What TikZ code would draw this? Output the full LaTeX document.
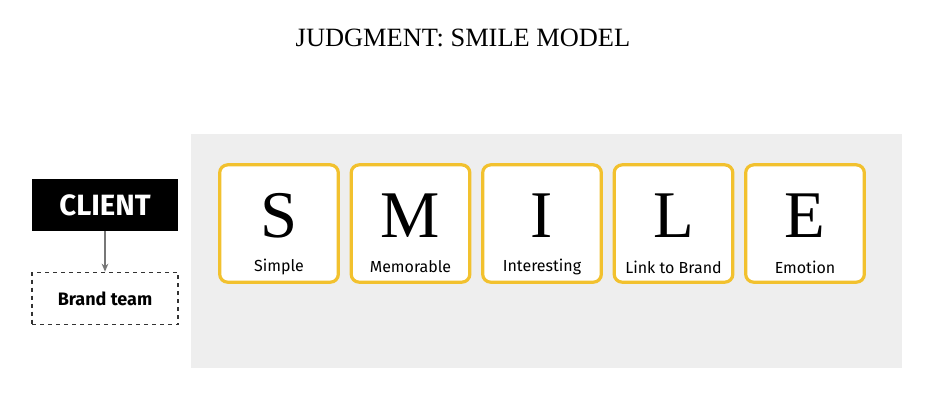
\documentclass[tikz,border=0pt]{standalone}
\usepackage{fontspec}
\setmainfont{Liberation Serif}
\newfontfamily\labelfont{Fira Sans}
\usetikzlibrary{arrows.meta}
\definecolor{gold}{HTML}{F2C12E}
\definecolor{bggray}{HTML}{EEEEEE}
\definecolor{arrowgray}{HTML}{777777}
\tikzset{
  card/.style={draw=gold, line width=2.4pt, fill=white, rounded corners=6pt, minimum width=89pt, minimum height=88pt, inner sep=0pt},
  bigletter/.style={font=\fontsize{50}{50}\selectfont},
  lbl/.style={font=\labelfont\fontsize{12}{13}\selectfont},
}
\begin{document}
\begin{tikzpicture}[x=0.75pt, y=-0.75pt]
\useasboundingbox (0,0) rectangle (930,405);
\fill[white] (0,0) rectangle (930,405);
\node[font=\fontsize{19.8}{20}\selectfont] (title) at (463,38) {JUDGMENT: SMILE MODEL};
\fill[bggray] (191,134) rectangle (902,368);
\foreach \n/\L/\T [count=\i] in {s/S/Simple, m/M/Memorable, i/I/Interesting, l/L/Link to Brand, e/E/Emotion}{
  \pgfmathsetmacro{\cx}{279+131.5*(\i-1)}
  \node[card] (\n) at (\cx,223.5) {};
  \node[bigletter] (\n L) at (\cx,216) {\L};
  \node[lbl] (\n T) at (\cx,267) {\T};
}
\node[fill=black, text=white, minimum width=109.5pt, minimum height=39pt, inner sep=0pt, font=\labelfont\bfseries\fontsize{22}{23}\selectfont] (client) at (105,205) {CLIENT};
\node[draw=black!80, dashed, line width=0.8pt, minimum width=109.5pt, minimum height=39.5pt, inner sep=0pt, font=\labelfont\bfseries\fontsize{13.5}{14}\selectfont] (brand) at (105,298.5) {Brand team};
\draw[arrowgray, line width=1.2pt, -{Stealth[length=6pt,width=5pt]}] (client.south) -- (brand.north);
\end{tikzpicture}
\end{document}
